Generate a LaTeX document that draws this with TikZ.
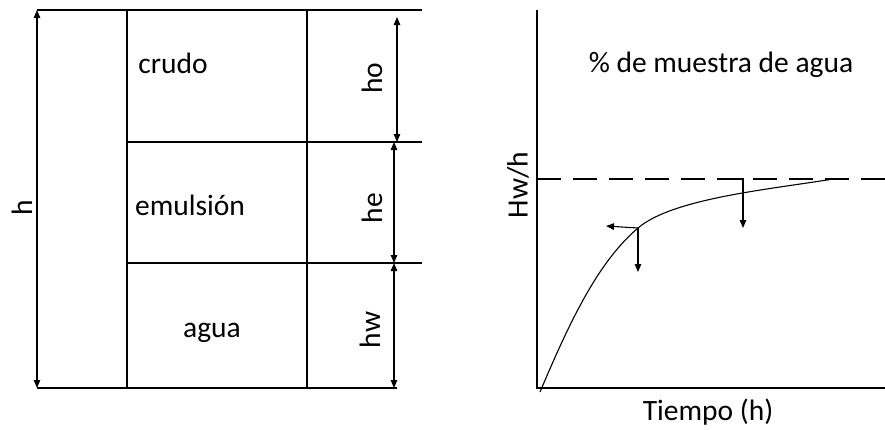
\documentclass[tikz,border=0pt]{standalone}
\usepackage{fontspec}
\setmainfont{Carlito}
\usetikzlibrary{arrows.meta}
\begin{document}
\begin{tikzpicture}[x=1pt,y=-1pt,
  ln/.style={line width=1.1pt},
  tip/.style={-{Triangle[length=8pt,width=6.5pt]}},
  dim/.style={ln,{Triangle[length=8pt,width=6.5pt]}-{Triangle[length=8pt,width=6.5pt]}},
  lbl/.style={font=\fontsize{29.5}{34}\selectfont,inner sep=0pt},
  rlbl/.style={lbl,rotate=90}]
\useasboundingbox (0,0) rectangle (885,429);
% left diagram
\coordinate (tl) at (37,10);
\coordinate (tr) at (422,10);
\coordinate (bl) at (37,388);
\coordinate (br) at (397,388);
\coordinate (m1l) at (127,142);
\coordinate (m1r) at (422,142);
\coordinate (m2l) at (127,263);
\coordinate (m2r) at (422,263);
\coordinate (v1t) at (127,10);
\coordinate (v1b) at (127,388);
\coordinate (v2t) at (307,10);
\coordinate (v2b) at (307,388);
\draw[ln] (tl) -- (tr);
\draw[ln] (bl) -- (br);
\draw[ln] (m1l) -- (m1r);
\draw[ln] (m2l) -- (m2r);
\draw[ln] (v1t) -- (v1b);
\draw[ln] (v2t) -- (v2b);
\coordinate (ha) at (37,10);
\coordinate (hb) at (37,388);
\draw[dim] (ha) -- (hb);
\coordinate (hoa) at (397,17);
\coordinate (hob) at (397,142);
\draw[dim] (hoa) -- (hob);
\coordinate (hea) at (394,142);
\coordinate (heb) at (394,263);
\draw[dim] (hea) -- (heb);
\coordinate (hwa) at (394,263);
\coordinate (hwb) at (394,388);
\draw[dim] (hwa) -- (hwb);
\node[rlbl] (hl) at (22,208) {h};
\node[rlbl] (hol) at (372,78) {ho};
\node[rlbl] (hel) at (372,208) {he};
\node[rlbl] (hwl) at (370,330) {hw};
\node[lbl] (crudo) at (173,63) {crudo};
\node[lbl] (emul) at (190,205) {emulsión};
\node[lbl] (agua) at (212,333) {agua};
% right diagram
\coordinate (o) at (537,388);
\coordinate (ytop) at (537,10);
\coordinate (xend) at (885,388);
\draw[ln] (ytop) -- (o) -- (xend);
\coordinate (dl) at (537,179);
\coordinate (dr) at (885,179);
\draw[ln,dash pattern=on 24pt off 12pt] (dl) -- (dr);
\coordinate (c0) at (540,392);
\coordinate (p1) at (638,228);
\coordinate (c3) at (833,179);
\draw[ln] (c0) .. controls (570,321) and (598,262) .. (p1)
  .. controls (673,198) and (773,189) .. (c3);
\coordinate (p1d) at (638,272);
\coordinate (p1l) at (606,226);
\draw[ln,tip] (p1) -- (p1d);
\draw[ln,tip] (p1) -- (p1l);
\coordinate (p2s) at (718,179);
\coordinate (p2) at (743,179);
\coordinate (p2d) at (743,228);
\draw[ln,tip] (p2s) -- (p2) -- (p2d);
\node[lbl] (title) at (721,65) {\% de muestra de agua};
\node[rlbl] (yl) at (518,185) {Hw/h};
\node[lbl] (xl) at (708,412) {Tiempo (h)};
\end{tikzpicture}
\end{document}
